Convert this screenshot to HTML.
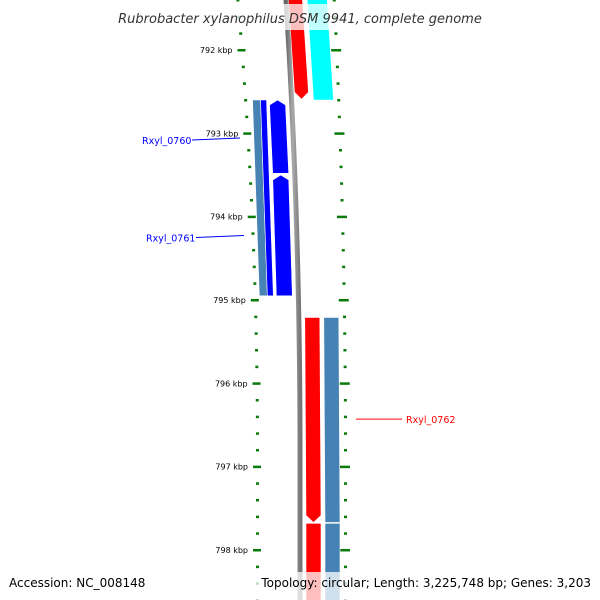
<!DOCTYPE html>
<html><head><meta charset="utf-8"><style>
html,body{margin:0;background:#fff;width:600px;height:600px;overflow:hidden}
svg{display:block;font-family:"DejaVu Sans","Liberation Sans",sans-serif}
</style></head><body>
<svg id="c" width="600" height="600" viewBox="0 0 600 600" overflow="hidden">
<defs>
<linearGradient id="gr" x1="0" x2="1"><stop offset="0" stop-color="#666"/><stop offset="0.5" stop-color="#aaa"/><stop offset="1" stop-color="#777"/></linearGradient>
<clipPath id="clip"><rect x="0" y="0" width="600" height="600"/></clipPath>
</defs>
<g clip-path="url(#clip)">
<g id="ticks"></g>
<g id="feats"></g>
<path id="backbone" fill="none" stroke="url(#gr)" stroke-width="5"/>
<g id="labels"></g>
</g>
<rect x="105" y="4" width="390" height="26" fill="#fff" opacity="0.75"/>
<text x="300" y="23" text-anchor="middle" font-size="13" font-style="italic" fill="#333">Rubrobacter xylanophilus DSM 9941, complete genome</text>
<rect x="0" y="572" width="600" height="28" fill="#fff" opacity="0.75"/>
<text x="9" y="587" font-size="12" fill="#000">Accession: NC_008148</text>
<text x="591" y="587" text-anchor="end" font-size="12" fill="#000">Topology: circular; Length: 3,225,748 bp; Genes: 3,203</text>
</svg>
<script>
const kbpTicks=[792,793,794,795,796,797,798];
const geneNames=["Rxyl_0760","Rxyl_0761","Rxyl_0762"];
const geneLabelBp=[793080,794250,796430];
const featStart=[790000,790000,792600,792600,792600,793500,795210,797680,795210,797680];
const featEnd=[792600,792590,794950,794950,793480,794950,797670,800000,797670,800000];
const featLane=[3,4,-2,-1,0,0,1,1,2,2];
const featColor=["#00ffff","#ff0000","#4682b4","#0000ff","#0000ff","#0000ff","#ff0000","#ff0000","#4682b4","#4682b4"];
const featArrow=[0,1,0,0,-1,-1,1,0,0,0];
const NS="http://www.w3.org/2000/svg";
function yOf(bp){return 50+(bp-792000)/1000*83.33;}
function off(y){const t=Math.max(0,(450-y)/450);return -14*t*t;}
const lanes={"-2":[261,269],"-1":[269,275],"0":[278,294],"1":[306,321],"2":[325,340],"3":[322,342],"4":[303,317]};
let d="";for(let y=-5;y<=605;y+=5){d+=(y<0?"M":"L")+(300+off(y))+","+y;}
document.getElementById('backbone').setAttribute('d',d);
const tg=document.getElementById('ticks');
for(let k=791;k<=799;k+=0.2){
  const kk=Math.round(k*10)/10, y=yOf(kk*1000);
  if(y<-5||y>600)continue;
  const major=Math.abs(kk-Math.round(kk))<0.01;
  const lx=257+1.4*off(y), rx=345+0.8*off(y);
  const a=document.createElementNS(NS,'rect');
  
  
  a.setAttribute('x',major?lx-4:lx-1);a.setAttribute('y',y-1);a.setAttribute('width',major?8:3);a.setAttribute('height',2.5);a.setAttribute('fill','#0a7a0a');tg.appendChild(a);
  const b=document.createElementNS(NS,'rect');
  
  
  b.setAttribute('x',major?rx-5:rx-1);b.setAttribute('y',y-1);b.setAttribute('width',major?10:3);b.setAttribute('height',2.5);b.setAttribute('fill','#0a7a0a');tg.appendChild(b);
  if(major&&kbpTicks.indexOf(Math.round(kk))>=0){
    const t=document.createElementNS(NS,'text');
    
    
    t.setAttribute('x',lx-9);t.setAttribute('y',y+3);t.setAttribute('text-anchor','end');t.setAttribute('font-size','8');t.setAttribute('fill','#000');
    t.textContent=Math.round(kk)+" kbp";tg.appendChild(t);
  }
}
const fg=document.getElementById('feats');
featStart.forEach((s,i)=>{
  const y1=yOf(s),y2=yOf(featEnd[i]);const L=lanes[featLane[i]];
  const o1=off(y1),o2=off(y2);
  const x1a=L[0]+o1,x1b=L[1]+o1,x2a=L[0]+o2,x2b=L[1]+o2;
  let pts;
  if(featArrow[i]===1){pts=[[x1a,y1],[x1b,y1],[x2b,y2-7],[(x2a+x2b)/2,y2],[x2a,y2-7]];}
  else if(featArrow[i]===-1){pts=[[(x1a+x1b)/2,y1],[x1b,y1+5],[x2b,y2],[x2a,y2],[x1a,y1+5]];}
  else pts=[[x1a,y1],[x1b,y1],[x2b,y2],[x2a,y2]];
  const p=document.createElementNS(NS,'polygon');
  
  
  p.setAttribute('points',pts.map(q=>q.join(',')).join(' '));
  p.setAttribute('fill',featColor[i]);p.setAttribute('stroke','#fff');p.setAttribute('stroke-width','0.6');
  fg.appendChild(p);
});
const lg=document.getElementById('labels');
const labX=[142,146,406],labCol=["#0000ff","#0000ff","#ff0000"],lineX=[[192,240],[196,244],[356,402]];
geneNames.forEach((n,i)=>{
  const y=yOf(geneLabelBp[i]);
  const l=document.createElementNS(NS,'line');
  
  
  l.setAttribute('x1',lineX[i][0]);l.setAttribute('x2',lineX[i][1]);l.setAttribute('y1',y);l.setAttribute('y2',y-(i<2?2:0));l.setAttribute('stroke',labCol[i]);l.setAttribute('stroke-width','1');lg.appendChild(l);
  const t=document.createElementNS(NS,'text');
  
  
  t.setAttribute('x',labX[i]);t.setAttribute('y',y+4);t.setAttribute('font-size','9.5');t.setAttribute('fill',labCol[i]);t.textContent=n;lg.appendChild(t);
});
</script>
</body></html>
